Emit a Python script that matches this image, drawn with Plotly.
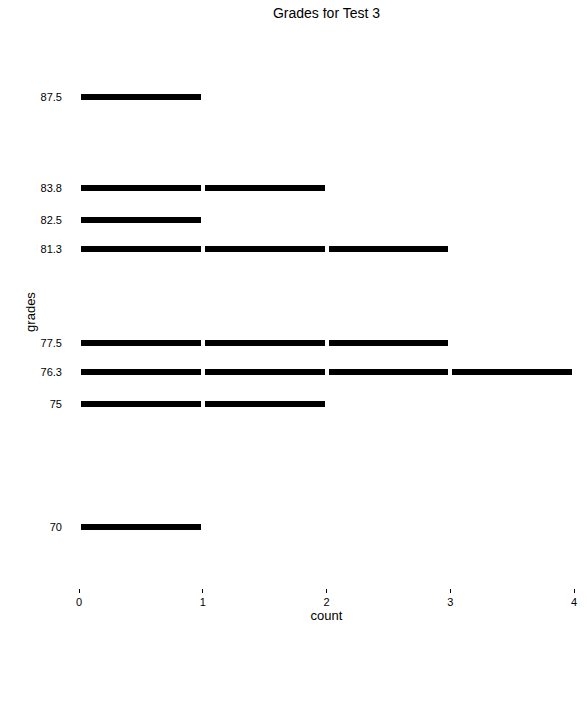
import plotly.graph_objects as go

grades = [70, 75, 76.3, 77.5, 81.3, 82.5, 83.8, 87.5]
counts = [1, 2, 4, 3, 3, 1, 2, 1]
grade_labels = ["70", "75", "76.3", "77.5", "81.3", "82.5", "83.8", "87.5"]

fig = go.Figure()

# one trace per stack level so every single count is its own segment
for level in range(max(counts)):
    ys = [g for g, c in zip(grades, counts) if c > level]
    fig.add_trace(
        go.Bar(x=[1] * len(ys), y=ys,
               orientation='h',
               width=0.41,
               marker_color='black',
               marker_line_color='white',
               marker_line_width=4,
               showlegend=False)
    )

# page body has an 8px margin, so the figure is a bit smaller than the window
fig.update_layout(
    barmode='stack',
    width=571, height=680,
    margin=dict(l=71, r=5, t=28, b=100, autoexpand=False),
    paper_bgcolor='white', plot_bgcolor='white',
    font=dict(family='Liberation Sans, Arial, sans-serif', size=11, color='black'),
    title=dict(text='Grades for Test 3', x=0.5, xref='paper', xanchor='center',
               y=0.999, yanchor='top', font=dict(size=14)),
)
fig.update_xaxes(range=[0, 4], tickvals=[0, 1, 2, 3, 4], showgrid=False,
                 zeroline=False, showline=False, ticks='outside', ticklen=4,
                 tickcolor='black', automargin=False, ticklabeloverflow='allow',
                 title=dict(text='count', font=dict(size=13), standoff=2))
fig.update_yaxes(range=[67.5, 90], tickvals=grades, ticktext=grade_labels,
                 showgrid=False, zeroline=False, showline=False, ticks='',
                 ticklabelstandoff=16, automargin=False,
                 title=dict(text='grades', font=dict(size=13), standoff=2))

fig.write_html("out.html")
